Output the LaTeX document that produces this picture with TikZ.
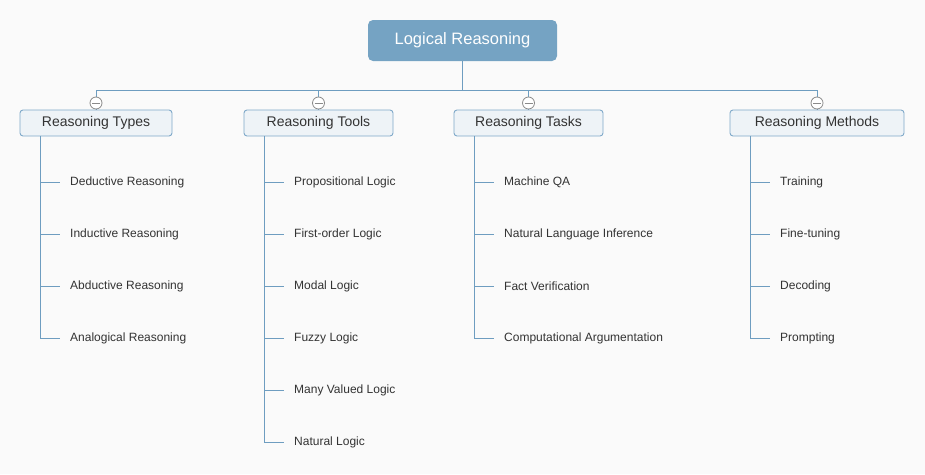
\documentclass[tikz,border=0pt]{standalone}
\usepackage{fontspec}
\setmainfont{Liberation Sans}
\definecolor{bgc}{HTML}{FAFAFA}
\definecolor{rootfill}{HTML}{75A3C3}
\definecolor{lonefill}{HTML}{EEF3F7}
\definecolor{loneline}{HTML}{7FA9C9}
\definecolor{connc}{HTML}{6E9DC0}
\definecolor{txtc}{HTML}{333333}
\definecolor{knobc}{HTML}{8A8A8A}
\tikzset{
  rootbox/.style={fill=rootfill, rounded corners=5pt, text=white, font=\fontsize{16.5}{19}\selectfont, minimum height=41pt, inner sep=0pt},
  lonebox/.style={fill=lonefill, draw=loneline, line width=0.9pt, rounded corners=3pt, text=txtc, font=\fontsize{14}{16}\selectfont, minimum height=26pt, inner sep=0pt},
  leaf/.style={anchor=west, inner sep=0pt, text=txtc, font=\fontsize{12}{14}\selectfont},
  conn/.style={draw=connc, line width=0.9pt},
  knob/.style={circle, draw=knobc, fill=white, line width=0.8pt, minimum size=12pt, inner sep=0pt,
    path picture={\draw[knobc, line width=0.8pt] ([xshift=-4pt]path picture bounding box.center) -- ([xshift=4pt]path picture bounding box.center);}}
}
\begin{document}
\begin{tikzpicture}[x=1pt,y=-1pt]
\fill[bgc] (0,0) rectangle (925,474);
\useasboundingbox (0,0) rectangle (925,474);

\node[rootbox, minimum width=189pt] (root) at (462.5,40.5) {Logical Reasoning};
\coordinate (hub) at (462.5,90);

\node[lonebox, minimum width=152pt] (types) at (96,123) {Reasoning Types};
\node[lonebox, minimum width=149pt] (tools) at (318.5,123) {Reasoning Tools};
\node[lonebox, minimum width=149pt] (tasks) at (528.5,123) {Reasoning Tasks};
\node[lonebox, minimum width=174pt] (methods) at (817,123) {Reasoning Methods};

\draw[conn] (root.south) -- (hub);
\draw[conn] (hub) -| (96,103);
\draw[conn] (hub) -| (318.5,103);
\draw[conn] (hub) -| (528.5,103);
\draw[conn] (hub) -| (817,103);
\draw[conn] (96,103) -- (types.north);
\draw[conn] (318.5,103) -- (tools.north);
\draw[conn] (528.5,103) -- (tasks.north);
\draw[conn] (817,103) -- (methods.north);

\node[knob] (k1) at (96,103) {};
\node[knob] (k2) at (318.5,103) {};
\node[knob] (k3) at (528.5,103) {};
\node[knob] (k4) at (817,103) {};

% Types
\node[leaf] (a1) at (70,182.5) {Deductive Reasoning};
\node[leaf] (a2) at (70,234.5) {Inductive Reasoning};
\node[leaf] (a3) at (70,286.5) {Abductive Reasoning};
\node[leaf] (a4) at (70,338.5) {Analogical Reasoning};
\coordinate (av) at (40,136);
\foreach \n in {a1,a2,a3,a4} \draw[conn] (av) |- ([xshift=-10pt]\n.west);

% Tools
\node[leaf] (b1) at (294,182.5) {Propositional Logic};
\node[leaf] (b2) at (294,234.5) {First-order Logic};
\node[leaf] (b3) at (294,286.5) {Modal Logic};
\node[leaf] (b4) at (294,338.5) {Fuzzy Logic};
\node[leaf] (b5) at (294,390.5) {Many Valued Logic};
\node[leaf] (b6) at (294,442.5) {Natural Logic};
\coordinate (bv) at (264,136);
\foreach \n in {b1,b2,b3,b4,b5,b6} \draw[conn] (bv) |- ([xshift=-10pt]\n.west);

% Tasks
\node[leaf] (c1) at (504,182.5) {Machine QA};
\node[leaf] (c2) at (504,234.5) {Natural Language Inference};
\node[leaf] (c3) at (504,286.5) {Fact Verification};
\node[leaf] (c4) at (504,338.5) {Computational Argumentation};
\coordinate (cv) at (474,136);
\foreach \n in {c1,c2,c3,c4} \draw[conn] (cv) |- ([xshift=-10pt]\n.west);

% Methods
\node[leaf] (d1) at (780,182.5) {Training};
\node[leaf] (d2) at (780,234.5) {Fine-tuning};
\node[leaf] (d3) at (780,286.5) {Decoding};
\node[leaf] (d4) at (780,338.5) {Prompting};
\coordinate (dv) at (750,136);
\foreach \n in {d1,d2,d3,d4} \draw[conn] (dv) |- ([xshift=-10pt]\n.west);
\end{tikzpicture}
\end{document}
